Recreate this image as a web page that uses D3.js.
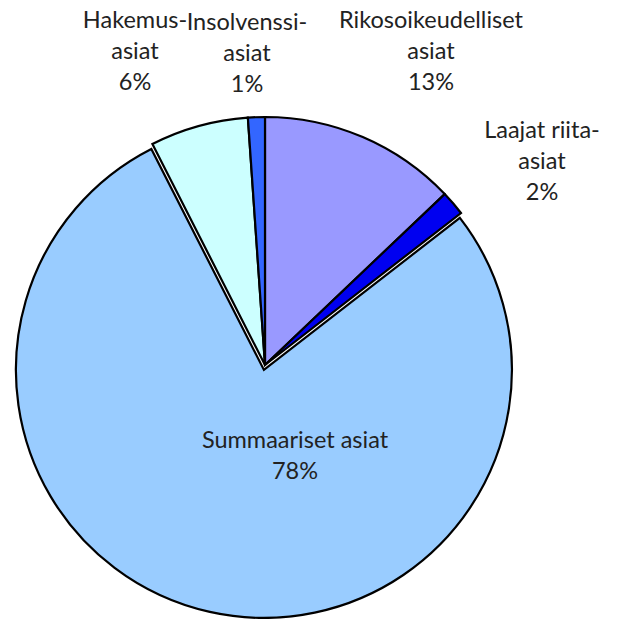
<!DOCTYPE html>
<html>
<head>
<meta charset="utf-8">
<title>Asiat</title>
<script src="https://d3js.org/d3.v7.min.js"></script>
<style>
  body { margin: 0; background: #fff; }
  svg text { font-family: Lato, "Open Sans", sans-serif; fill: #222; }
</style>
</head>
<body>
<div id="chart"></div>
<script>
// slice order clockwise from 12 o'clock
var categories = ["Rikosoikeudelliset asiat", "Laajat riita-asiat", "Summaariset asiat", "Hakemusasiat", "Insolvenssiasiat"];
var shares = [12.9, 1.6, 78.0, 6.4, 1.1];
var labelLines = [
    ["Rikosoikeudelliset", "asiat"],
    ["Laajat riita-", "asiat"],
    ["Summaariset asiat"],
    ["Hakemus-", "asiat"],
    ["Insolvenssi-", "asiat"]
];
var colors = ["#9999ff", "#0000f0", "#99ccff", "#ccffff", "#3366ff"];

// where each label block sits (centre x, first line y)
var labelAt = [[431, 28], [542, 138], [295, 448], [135, 28], [247, 30]];

var w = 619, h = 619;
var cx = 265, cy = 365, r = 248;

var svg = d3.select("#chart").append("svg")
    .attr("width", w)
    .attr("height", h);

var pie = d3.pie().sort(null).value(function(d) { return d; });
var arcs = pie(shares);
var arc = d3.arc().innerRadius(0).outerRadius(r);

var g = svg.append("g").attr("transform", "translate(" + cx + "," + cy + ")");

g.selectAll("path")
    .data(arcs)
    .enter()
    .append("path")
    .attr("d", arc)
    .attr("transform", function(d, i) {
        // the big slice is pulled out a little
        if (i !== 2) return null;
        var a = (d.startAngle + d.endAngle) / 2, off = 5;
        return "translate(" + (Math.sin(a) * off) + "," + (-Math.cos(a) * off) + ")";
    })
    .attr("fill", function(d, i) { return colors[i]; })
    .attr("stroke", "#000")
    .attr("stroke-width", 2.2)
    .attr("stroke-linejoin", "miter");

var labels = svg.selectAll("text.lbl")
    .data(arcs)
    .enter()
    .append("text")
    .attr("class", "lbl")
    .attr("text-anchor", "middle")
    .attr("font-size", 23.5);

labels.each(function(d, i) {
    var t = d3.select(this);
    var lines = labelLines[i].concat([Math.round(shares[i]) + "%"]);
    lines.forEach(function(s, k) {
        t.append("tspan")
            .attr("x", labelAt[i][0])
            .attr("y", labelAt[i][1] + k * 31)
            .text(s);
    });
});
</script>
</body>
</html>
